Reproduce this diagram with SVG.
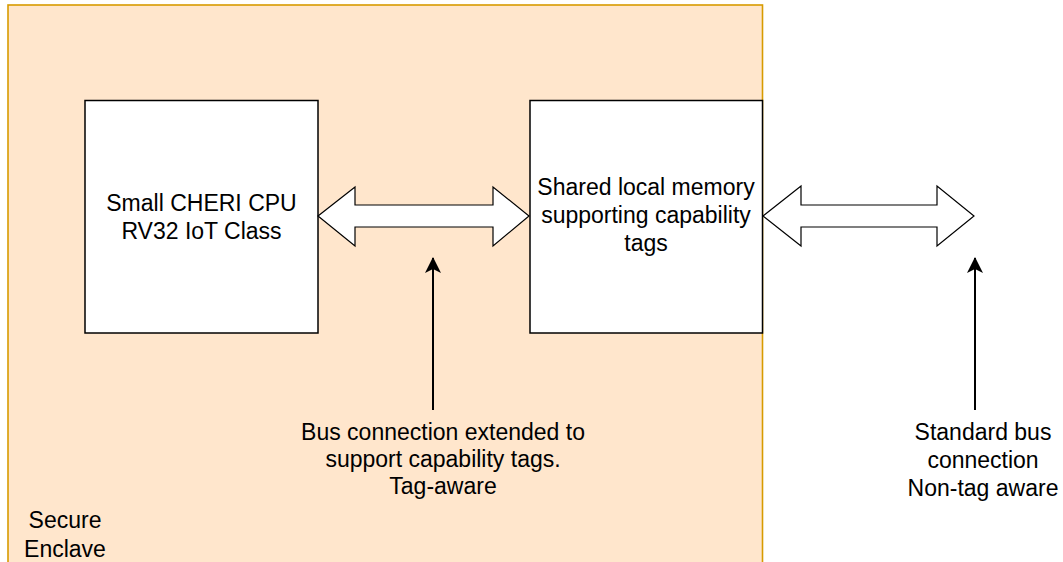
<svg xmlns="http://www.w3.org/2000/svg" width="1063" height="562" viewBox="0 0 1063 562">
<style>
.lbl{font-family:"Liberation Sans",Arial,sans-serif;font-size:23px;fill:#000;text-anchor:middle}
.box{fill:#fff;stroke:#000;stroke-width:1.5}
.dbl{fill:#fff;stroke:#000;stroke-width:1.2;stroke-linejoin:miter}
.ln{stroke:#000;stroke-width:2;fill:none}
</style>
<defs>
<marker id="ah" viewBox="0 0 16 16" refX="15" refY="8" markerWidth="16" markerHeight="16" markerUnits="userSpaceOnUse" orient="auto">
<path d="M0,0 L16,8 L0,16 L4,8 Z" fill="#000"/>
</marker>
</defs>
<rect width="1063" height="562" fill="#fff"/>
<g id="enclave">
<rect x="8" y="5" width="754.5" height="570" fill="#ffe6cc" stroke="#d79b00" stroke-width="1.6"/>
<text class="lbl" x="65" y="528">Secure</text>
<text class="lbl" x="65" y="557">Enclave</text>
</g>
<g id="cpu">
<rect class="box" x="85" y="100.5" width="233" height="232.5"/>
<text class="lbl" x="201.5" y="211">Small CHERI CPU</text>
<text class="lbl" x="201.5" y="239">RV32 IoT Class</text>
</g>
<g id="memory">
<rect class="box" x="530" y="100.5" width="232.5" height="232.5"/>
<text class="lbl" x="646" y="195">Shared local memory</text>
<text class="lbl" x="646" y="223">supporting capability</text>
<text class="lbl" x="646" y="251">tags</text>
</g>
<g id="connectors">
<polygon class="dbl" points="318,216 355,187 355,205 493,205 493,187 529,216 493,246 493,227 355,227 355,246"/>
<polygon class="dbl" points="763,216 801,186 801,205 937,205 937,186 974,216 937,246 937,227 801,227 801,246"/>
<line class="ln" x1="433" y1="410" x2="433" y2="258" marker-end="url(#ah)"/>
<line class="ln" x1="975" y1="410" x2="975" y2="258" marker-end="url(#ah)"/>
</g>
<g id="bus-label">
<text class="lbl" x="443" y="440">Bus connection extended to</text>
<text class="lbl" x="443" y="467">support capability tags.</text>
<text class="lbl" x="443" y="494">Tag-aware</text>
</g>
<g id="std-label">
<text class="lbl" x="983" y="440">Standard bus</text>
<text class="lbl" x="983" y="468">connection</text>
<text class="lbl" x="983" y="496">Non-tag aware</text>
</g>
</svg>
